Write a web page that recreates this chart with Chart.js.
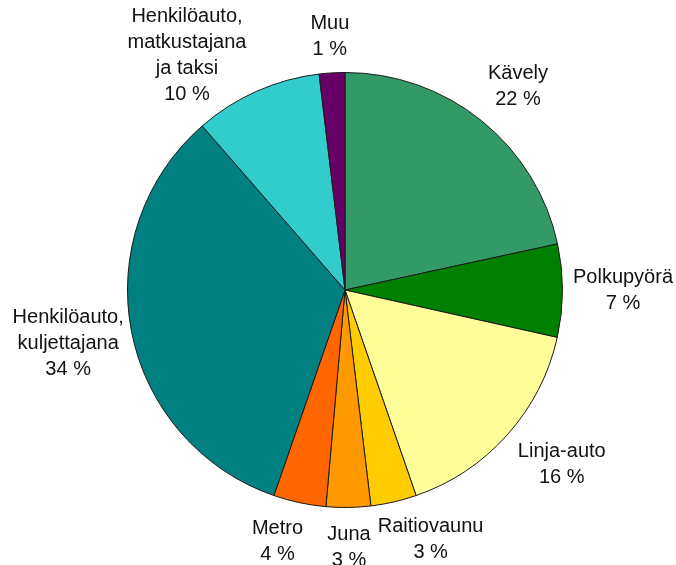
<!DOCTYPE html>
<html>
<head>
<meta charset="utf-8">
<script src="https://cdn.jsdelivr.net/npm/chart.js@4"></script>
<style>
  html, body { margin: 0; padding: 0; background: #ffffff; }
  #wrap { width: 676px; height: 565px; }
</style>
</head>
<body>
<div id="wrap"><canvas id="pieChart" width="676" height="565"></canvas></div>
<script>
// Kulkutapaosuudet (luettu kuvasta)
const labelLines = [
  ["Kävely"],
  ["Polkupyörä"],
  ["Linja-auto"],
  ["Raitiovaunu"],
  ["Juna"],
  ["Metro"],
  ["Henkilöauto,", "kuljettajana"],
  ["Henkilöauto,", "matkustajana", "ja taksi"],
  ["Muu"],
];
const shownPercents = [22, 7, 16, 3, 3, 4, 34, 10, 1];
const shares = [21.6, 6.9, 16.2, 3.4, 3.3, 3.9, 33.3, 9.5, 1.9];

const sliceColors = [
  "#339966", "#008000", "#FFFF99", "#FFCC00", "#FF9900",
  "#FF6600", "#008080", "#33CCCC", "#660066",
];

// pienet siirrot tekstien paikkoihin (kulma asteina, etäisyys pikseleinä)
const labelNudge = [
  [1.5, 0], [0, 0], [-3, 0], [-6, -2], [0, 4],
  [3, 1], [0, -6], [-10, -20], [0, 0],
];

const FONT = "20px 'Liberation Sans', Arial, sans-serif";
const LINE_H = 26;
const GAP = 10;

// Piirtää tekstit sektorien ulkopuolelle
const outsideLabels = {
  id: "outsideLabels",
  afterDatasetsDraw(chart) {
    const ctx = chart.ctx;
    const meta = chart.getDatasetMeta(0);
    ctx.save();
    ctx.font = FONT;
    ctx.fillStyle = "#111111";
    ctx.textAlign = "center";
    ctx.textBaseline = "middle";
    meta.data.forEach((arc, i) => {
      const p = arc.getProps(["x", "y", "startAngle", "endAngle", "outerRadius"], true);
      const lines = labelLines[i].concat([shownPercents[i] + " %"]);
      const w = Math.max(...lines.map((l) => ctx.measureText(l).width)) / 2;
      const h = (lines.length * LINE_H) / 2;
      const a = (p.startAngle + p.endAngle) / 2 + (labelNudge[i][0] * Math.PI) / 180;
      const cx = Math.cos(a);
      const cy = Math.sin(a);
      // etsi etäisyys jolla tekstilaatikko jää ympyrän ulkopuolelle
      let d = p.outerRadius;
      while (d < p.outerRadius + 300) {
        const dx = Math.max(Math.abs(cx * d) - w, 0);
        const dy = Math.max(Math.abs(cy * d) - h, 0);
        if (Math.hypot(dx, dy) >= p.outerRadius + GAP) break;
        d += 0.5;
      }
      d += labelNudge[i][1];
      const tx = p.x + cx * d;
      const ty = p.y + cy * d;
      lines.forEach((line, j) => {
        ctx.fillText(line, tx, ty - ((lines.length - 1) / 2) * LINE_H + j * LINE_H);
      });
    });
    ctx.restore();
  },
};

const pieCtx = document.getElementById("pieChart").getContext("2d");
const pieChart = new Chart(pieCtx, {
  type: "pie",
  data: {
    labels: labelLines.map((l) => l.join(" ")),
    datasets: [
      {
        data: shares,
        backgroundColor: sliceColors,
        borderColor: "#1a1a1a",
        borderWidth: 1,
      },
    ],
  },
  options: {
    responsive: false,
    animation: false,
    layout: {
      padding: { left: 127, right: 113, top: 72, bottom: 57 },
    },
    plugins: {
      legend: { display: false },
      tooltip: { enabled: false },
    },
  },
  plugins: [outsideLabels],
});
</script>
</body>
</html>
